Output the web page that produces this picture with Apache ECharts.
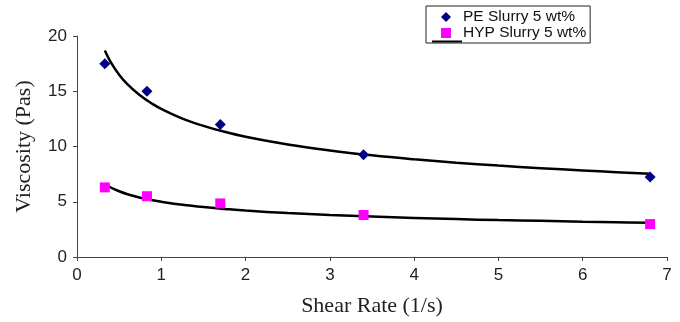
<!DOCTYPE html>
<html>
<head>
<meta charset="utf-8">
<script src="https://cdn.jsdelivr.net/npm/echarts@6/dist/echarts.min.js"></script>
<style>
  html, body { margin: 0; padding: 0; background: #fff; }
  #chart { width: 680px; height: 322px; }
</style>
</head>
<body>
<div id="chart"></div>
<script>
// Measured viscosity of the two slurries at each shear rate
var shearRates = [0.33, 0.83, 1.7, 3.4, 6.8];
var peViscosity = [17.5, 15.0, 12.0, 9.25, 7.25];
var hypViscosity = [6.3, 5.5, 4.85, 3.8, 2.98];

// Power-law trend curves, sampled along the shear-rate range
var trendRates = [0.33, 0.4, 0.5, 0.6, 0.75, 0.9, 1.0, 1.25, 1.5, 1.75, 2.0, 2.5, 3.0, 3.5, 4.0, 4.5, 5.0, 5.5, 6.0, 6.4, 6.8];
var peTrend = [18.69, 17.64, 16.5, 15.62, 14.61, 13.83, 13.4, 12.53, 11.87, 11.33, 10.88, 10.18, 9.64, 9.2, 8.84, 8.53, 8.27, 8.04, 7.83, 7.68, 7.54];
var hypTrend = [6.6, 6.29, 5.95, 5.68, 5.37, 5.13, 5.0, 4.73, 4.52, 4.35, 4.2, 3.98, 3.8, 3.66, 3.54, 3.43, 3.34, 3.27, 3.19, 3.14, 3.1];

var xTicks = [0, 1, 2, 3, 4, 5, 6, 7];
var yTicks = [0, 5, 10, 15, 20];

var seriesNames = ['PE Slurry 5 wt%', 'HYP Slurry 5 wt%'];

function pairs(xs, ys) {
  return xs.map(function (x, i) { return [x, ys[i]]; });
}

var chart = echarts.init(document.getElementById('chart'), null, { renderer: 'canvas' });

var axisFont = { fontFamily: 'Liberation Sans, Arial, sans-serif', fontSize: 17, color: '#222' };
var titleFont = { fontFamily: 'Liberation Serif, Times New Roman, serif', fontSize: 22, color: '#222' };

chart.setOption({
  animation: false,
  backgroundColor: '#fff',
  grid: { left: 77, right: 13, top: 36, bottom: 63 },
  legend: {
    data: [
      { name: seriesNames[0], icon: 'diamond' },
      { name: seriesNames[1], icon: 'rect' }
    ],
    orient: 'vertical',
    left: 426,
    top: 6,
    itemWidth: 10,
    itemHeight: 10,
    itemGap: 0,
    padding: [3, 4, 2, 15],
    borderColor: '#222',
    borderWidth: 1,
    textStyle: {
      fontFamily: 'Liberation Sans, Arial, sans-serif',
      fontSize: 15.5,
      lineHeight: 14,
      color: '#111',
      padding: [0, 0, 0, 7]
    }
  },
  xAxis: {
    type: 'value',
    min: xTicks[0],
    max: xTicks[xTicks.length - 1],
    interval: 1,
    name: 'Shear Rate (1/s)',
    nameLocation: 'middle',
    nameGap: 38,
    nameTextStyle: titleFont,
    axisLine: { lineStyle: { color: '#444', width: 1 } },
    axisTick: { show: true, inside: false, length: 4, lineStyle: { color: '#444' } },
    axisLabel: Object.assign({ margin: 10 }, axisFont),
    splitLine: { show: false }
  },
  yAxis: {
    type: 'value',
    min: yTicks[0],
    max: yTicks[yTicks.length - 1],
    interval: 5,
    name: 'Viscosity (Pas)',
    nameLocation: 'middle',
    nameGap: 42,
    nameRotate: 90,
    nameTextStyle: titleFont,
    axisLine: { show: true, lineStyle: { color: '#444', width: 1 } },
    axisTick: { show: true, inside: false, length: 4, lineStyle: { color: '#444' } },
    axisLabel: Object.assign({ margin: 10 }, axisFont),
    splitLine: { show: false }
  },
  graphic: [
    {
      // trendline key peeking out beneath the legend box
      type: 'line',
      shape: { x1: 432, y1: 41.5, x2: 462, y2: 41.5 },
      style: { stroke: '#000', lineWidth: 2 },
      z: 100
    }
  ],
  series: [
    {
      name: 'PE trend',
      type: 'line',
      data: pairs(trendRates, peTrend),
      smooth: 0.4,
      showSymbol: false,
      lineStyle: { color: '#000', width: 2.5 },
      itemStyle: { color: '#000' },
      z: 2
    },
    {
      name: 'HYP trend',
      type: 'line',
      data: pairs(trendRates, hypTrend),
      smooth: 0.4,
      showSymbol: false,
      lineStyle: { color: '#000', width: 2.5 },
      itemStyle: { color: '#000' },
      z: 2
    },
    {
      name: seriesNames[0],
      type: 'scatter',
      symbol: 'diamond',
      symbolSize: 11,
      data: pairs(shearRates, peViscosity),
      itemStyle: { color: '#000080', opacity: 1 },
      z: 3
    },
    {
      name: seriesNames[1],
      type: 'scatter',
      symbol: 'rect',
      symbolSize: 10,
      data: pairs(shearRates, hypViscosity),
      itemStyle: { color: '#ff00ff', opacity: 1 },
      z: 3
    }
  ]
});
</script>
</body>
</html>
